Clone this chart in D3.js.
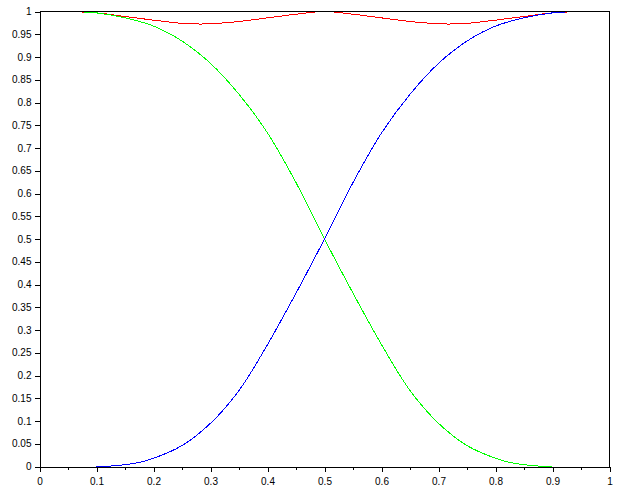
<!DOCTYPE html>
<html>
<head>
<meta charset="utf-8">
<script src="https://cdn.jsdelivr.net/npm/d3@7"></script>
<style>
  html, body { margin: 0; padding: 0; background: #fff; }
  svg { display: block; }
  .tick text { font-family: "Liberation Sans", Arial, sans-serif; font-size: 10px; fill: #000; }
</style>
</head>
<body>
<svg id="chart" width="624" height="493"></svg>
<script>
// ---- data ----
const xBlue   = [0.10, 0.125, 0.15, 0.175, 0.20, 0.25, 0.30, 0.35, 0.40, 0.45, 0.50, 0.55, 0.60, 0.65, 0.70, 0.75, 0.80, 0.85, 0.90, 0.925, 0.95];
const yBlue   = [0.000, 0.001, 0.004, 0.009, 0.018, 0.046, 0.095, 0.167, 0.268, 0.381, 0.500, 0.624, 0.733, 0.818, 0.886, 0.935, 0.968, 0.986, 0.997, 0.999, 1.000];

const xGreen  = [0.05, 0.075, 0.10, 0.15, 0.20, 0.25, 0.30, 0.35, 0.40, 0.45, 0.50, 0.55, 0.60, 0.65, 0.70, 0.75, 0.80, 0.825, 0.85, 0.875, 0.90];
const yGreen  = [1.000, 0.999, 0.997, 0.986, 0.968, 0.935, 0.886, 0.818, 0.733, 0.624, 0.500, 0.381, 0.268, 0.167, 0.095, 0.046, 0.018, 0.009, 0.004, 0.001, 0.000];

const xRed    = [0.05, 0.10, 0.15, 0.20, 0.25, 0.28, 0.30, 0.35, 0.40, 0.45, 0.50, 0.55, 0.60, 0.65, 0.70, 0.72, 0.75, 0.80, 0.85, 0.90, 0.95];
const yRed    = [1.000, 0.997, 0.989, 0.981, 0.974, 0.9725, 0.973, 0.978, 0.986, 0.994, 1.000, 0.994, 0.986, 0.978, 0.973, 0.9725, 0.974, 0.981, 0.989, 0.997, 1.000];

const xMajorTicks = [0, 0.1, 0.2, 0.3, 0.4, 0.5, 0.6, 0.7, 0.8, 0.9, 1];
const xTickLabels = ["0", "0.1", "0.2", "0.3", "0.4", "0.5", "0.6", "0.7", "0.8", "0.9", "1"];
const xMinorTicks = [0.05, 0.15, 0.25, 0.35, 0.45, 0.55, 0.65, 0.75, 0.85, 0.95];
const yTicks      = [0, 0.05, 0.1, 0.15, 0.2, 0.25, 0.3, 0.35, 0.4, 0.45, 0.5, 0.55, 0.6, 0.65, 0.7, 0.75, 0.8, 0.85, 0.9, 0.95, 1];
const yTickLabels = ["0", "0.05", "0.1", "0.15", "0.2", "0.25", "0.3", "0.35", "0.4", "0.45", "0.5", "0.55", "0.6", "0.65", "0.7", "0.75", "0.8", "0.85", "0.9", "0.95", "1"];

// ---- drawing ----
const svg = d3.select("#chart");
const x = d3.scaleLinear().domain([0, 1]).range([39.5, 609.5]);
const y = d3.scaleLinear().domain([0, 1]).range([466.5, 11.5]);

const series = [
  { xs: xRed,   ys: yRed,   color: "#ff0000" },
  { xs: xGreen, ys: yGreen, color: "#00ff00" },
  { xs: xBlue,  ys: yBlue,  color: "#0000ff" }
];

const line = d3.line()
  .x(d => x(d[0]))
  .y(d => y(d[1]))
  .curve(d3.curveCatmullRom.alpha(0.5));

series.forEach(s => {
  svg.append("path")
    .datum(s.xs.map((v, i) => [v, s.ys[i]]))
    .attr("fill", "none")
    .attr("stroke", s.color)
    .attr("stroke-width", 1)
    .attr("shape-rendering", "crispEdges")
    .attr("d", line);
});

// box
svg.append("line").attr("x1", x(0)).attr("x2", x(1)).attr("y1", y(1)).attr("y2", y(1))
  .attr("stroke", "#000").attr("shape-rendering", "crispEdges");
svg.append("line").attr("x1", x(1)).attr("x2", x(1)).attr("y1", y(0)).attr("y2", y(1))
  .attr("stroke", "#000").attr("shape-rendering", "crispEdges");

// x axis minor ticks
svg.append("g")
  .attr("transform", `translate(0,${y(0)})`)
  .call(d3.axisBottom(x).tickValues(xMinorTicks).tickSize(3).tickSizeOuter(0).tickFormat(""))
  .call(g => g.select(".domain").remove());

// x axis
svg.append("g")
  .attr("transform", `translate(0,${y(0)})`)
  .call(d3.axisBottom(x).tickValues(xMajorTicks).tickSize(5).tickSizeOuter(0)
    .tickPadding(6)
    .tickFormat((d, i) => xTickLabels[i]));

// y axis
svg.append("g")
  .attr("transform", `translate(${x(0)},0)`)
  .call(d3.axisLeft(y).tickValues(yTicks).tickSize(5).tickSizeOuter(0)
    .tickPadding(3)
    .tickFormat((d, i) => yTickLabels[i]));

svg.selectAll(".domain, .tick line").attr("shape-rendering", "crispEdges").attr("stroke", "#000");
</script>
</body>
</html>
